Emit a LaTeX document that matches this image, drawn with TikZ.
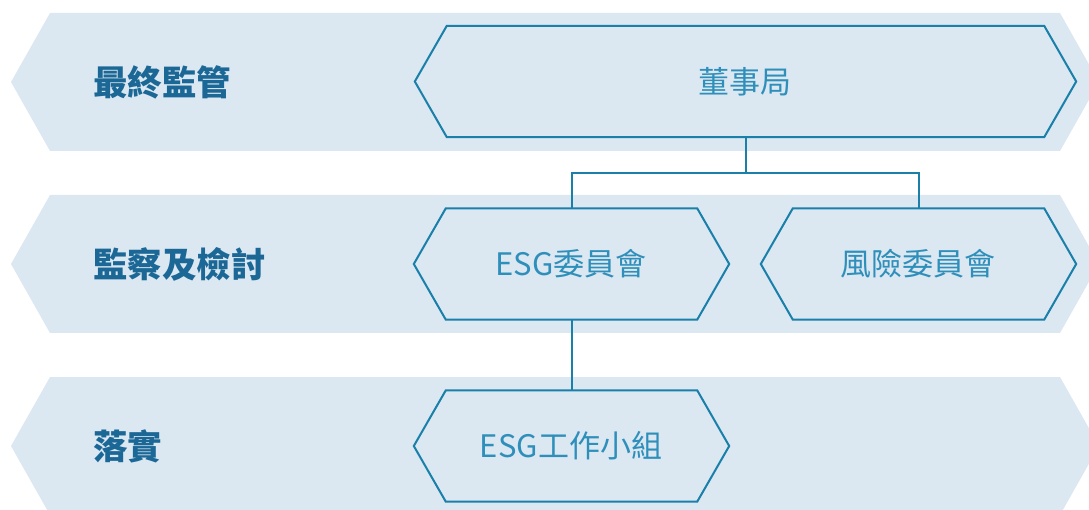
\documentclass[tikz,border=0pt]{standalone}
\usepackage{fontspec}
\setmainfont{Noto Sans CJK TC}
\usetikzlibrary{calc}
\definecolor{bandfill}{HTML}{DBE7F1}
\definecolor{hexline}{HTML}{1A80AA}
\definecolor{hextext}{HTML}{2E8FBA}
\definecolor{labeltext}{HTML}{1B6896}
\tikzset{
  hexbox/.style={rectangle, minimum height=111pt, inner sep=0pt},
  hexlabel/.style={text=hextext, inner sep=0pt, font=\fontsize{31}{33}\selectfont},
  hexedge/.style={draw=hexline, line width=2pt, fill=bandfill, line join=miter},
  conn/.style={draw=hexline, line width=2pt},
  levellabel/.style={anchor=west, inner sep=0pt, text=labeltext, font=\fontsize{34.5}{37}\selectfont\bfseries},
  band/.style={fill=bandfill}
}
\newcommand{\hexoutline}[1]{%
  \path[hexedge] (#1.north west) -- (#1.north east) -- ([xshift=32pt]#1.east) -- (#1.south east) -- (#1.south west) -- ([xshift=-32pt]#1.west) -- cycle;}
\begin{document}
\begin{tikzpicture}[x=1pt,y=-1pt]
\useasboundingbox (0,0) rectangle (1089,510);
\clip (0,0) rectangle (1089,510);
% bands
\path[band] (50,13) -- (1060,13) -- (1099,82) -- (1060,151) -- (50,151) -- (11,82) -- cycle;
\path[band] (50,195) -- (1060,195) -- (1099,264) -- (1060,333) -- (50,333) -- (11,264) -- cycle;
\path[band] (50,377) -- (1060,377) -- (1099,446) -- (1060,515) -- (50,515) -- (11,446) -- cycle;
% level labels
\node[levellabel] (l1) at (93,82) {最終監管};
\node[levellabel] (l2) at (93,264) {監察及檢討};
\node[levellabel] (l3) at (93,446) {落實};
% hex nodes
\node[hexbox, minimum width=597pt] (board) at (745.5,81.5) {};
\hexoutline{board}
\node[hexlabel] (boardt) at (745,82) {董事局};
\node[hexbox, minimum width=251pt] (esg) at (571.5,264) {};
\hexoutline{esg}
\node[hexlabel] (esgt) at (571,264) {ESG委員會};
\node[hexbox, minimum width=251pt] (risk) at (918.5,264) {};
\hexoutline{risk}
\node[hexlabel] (riskt) at (918,264) {風險委員會};
\node[hexbox, minimum width=251pt] (task) at (571.5,446) {};
\hexoutline{task}
\node[hexlabel] (taskt) at (571,446) {ESG工作小組};
% connectors
\coordinate (j) at (745.5,173);
\draw[conn] (board.south) -- (j);
\draw[conn] (esg.north) |- (j) -| (risk.north);
\draw[conn] (esg.south) -- (task.north);
\end{tikzpicture}
\end{document}
